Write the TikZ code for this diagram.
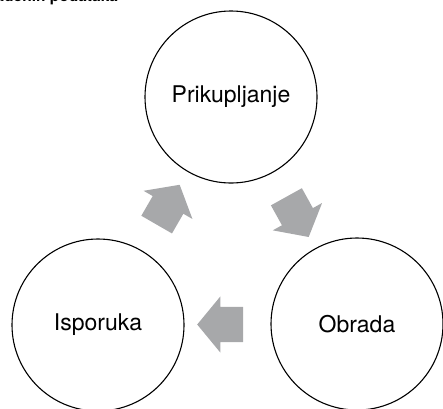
\documentclass[tikz,border=0pt]{standalone}
\usepackage{fontspec}
\setmainfont{TeX Gyre Heros}
\usetikzlibrary{positioning, shapes.arrows, calc}
\definecolor{mygray}{RGB}{167,168,170}
\tikzset{
  phase/.style={circle,draw,line width=1.1pt,minimum size=172pt,inner sep=0,
    font=\fontsize{23}{26}\selectfont},
  flowarrow/.style={single arrow,draw=none,fill=mygray,minimum height=46pt,
    inner xsep=0pt,inner ysep=17.5pt,single arrow head extend=10.5pt,
    single arrow tip angle=101},
  noborder/.style={draw=none,inner sep=0,outer sep=0,
    font=\fontsize{15.5}{18}\selectfont\bfseries}
}
\begin{document}
\begin{tikzpicture}[x=1pt,y=-1pt]
\useasboundingbox (0,0) rectangle (443,408);

\node [noborder, anchor=base east] (title) at (118,1.5) {obrađenih podataka};

\node [phase] (prik) at (231,97) {Prikupljanje};
\node [phase] (obr) at (357,324) {Obrada};
\node [phase] (isp) at (98,325) {Isporuka};

\node [flowarrow, rotate=-61] (a1) at ($(prik)!0.5!(obr)$) {};
\node [flowarrow, rotate=180] (a2) at ($(obr)!0.5!(isp)$) {};
\node [flowarrow, rotate=60] (a3) at ($(isp)!0.5!(prik)$) {};

\end{tikzpicture}
\end{document}
